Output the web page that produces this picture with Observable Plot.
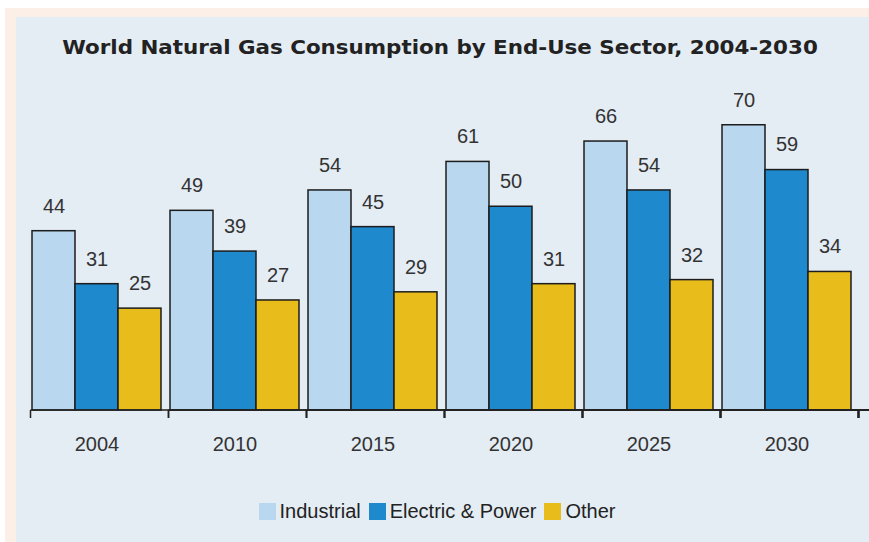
<!DOCTYPE html>
<html>
<head>
<meta charset="utf-8">
<script src="https://cdn.jsdelivr.net/npm/d3@7"></script>
<script src="https://cdn.jsdelivr.net/npm/@observablehq/plot@0.6"></script>
<style>
  html, body { margin: 0; padding: 0; background: #ffffff; overflow: hidden; }
  #wrap { position: relative; width: 869px; height: 542px; overflow: hidden; background: #ffffff; }
  #peach { position: absolute; left: 5px; top: 8px; width: 880px; height: 560px; background: #fcefe7; }
  #panel { position: absolute; left: 16px; top: 17px; width: 880px; height: 560px; background: #e4ecf4; }
  #title { position: absolute; left: 0; width: 880px; top: 35px; text-align: center;
    font-family: "DejaVu Sans", sans-serif; font-weight: bold; font-size: 20px; color: #222; white-space: nowrap;
    transform: scaleX(1.07); transform-origin: 440px 0; }
  #chart { position: absolute; left: 0; top: 0; }
  #legend { position: absolute; left: 0; width: 882px; top: 500px; display: flex; justify-content: center; align-items: center;
    font-family: "Liberation Sans", Arial, sans-serif; font-size: 20px; color: #222; }
  .item { display: flex; align-items: center; margin-right: 8px; }
  .sw { width: 17px; height: 17px; margin-right: 4px; }
</style>
</head>
<body>
<div id="wrap">
  <div id="peach"></div>
  <div id="panel"></div>
  <div id="chart"></div>
  <div id="title"></div>
  <div id="legend"></div>
</div>
<script>
const titleText = "World Natural Gas Consumption by End-Use Sector, 2004-2030";
const years = ["2004", "2010", "2015", "2020", "2025", "2030"];
const sectors = ["Industrial", "Electric & Power", "Other"];
const industrial = [44, 49, 54, 61, 66, 70];
const electric = [31, 39, 45, 50, 54, 59];
const other = [25, 27, 29, 31, 32, 34];
const colors = ["#b9d7ee", "#1e89cd", "#e8bc1b"];

const seriesValues = [industrial, electric, other];
const data = [];
years.forEach((yr, i) => {
  sectors.forEach((s, j) => data.push({year: yr, sector: s, value: seriesValues[j][i]}));
});

// baseline and group-boundary ticks derived from the fx scale
const axisLine = (index, scales) => {
  const fx = scales.fx, y = scales.y;
  const step = fx.step(), bw = fx.bandwidth();
  const half = (step - bw) / 2;
  const y0 = y(0);
  const edges = years.map(yr => fx(yr) - half);
  edges.push(fx(years[years.length - 1]) + bw + half);
  const g = d3.create("svg:g");
  g.append("line").attr("x1", edges[0]).attr("x2", edges[edges.length - 1])
    .attr("y1", y0).attr("y2", y0).attr("stroke", "#222").attr("stroke-width", 1.5);
  g.selectAll("line.t").data(edges).join("line").attr("class", "t")
    .attr("x1", d => d).attr("x2", d => d).attr("y1", y0).attr("y2", y0 + 8)
    .attr("stroke", "#222").attr("stroke-width", 1.5);
  return g.node();
};

const plot = Plot.plot({
  width: 869,
  height: 542,
  marginLeft: 28,
  marginRight: 13,
  marginTop: 84,
  marginBottom: 132,
  style: {background: "transparent", fontFamily: "'Liberation Sans', Arial, sans-serif"},
  fx: {domain: years, paddingInner: 0.05, paddingOuter: 0.025, label: null},
  x: {domain: sectors, padding: 0, axis: null},
  y: {domain: [0, 80], axis: null},
  color: {domain: sectors, range: colors},
  marks: [
    Plot.barY(data, {fx: "year", x: "sector", y: "value", fill: "sector", stroke: "#1c1c1c", strokeWidth: 1.5}),
    Plot.text(data, {fx: "year", x: "sector", y: "value", text: d => String(d.value), dy: -25, fontSize: 20, fill: "#333"}),
    Plot.axisFx({anchor: "bottom", tickSize: 0, tickPadding: 26, fontSize: 20, fill: "#333", label: null}),
    axisLine
  ]
});
document.getElementById("chart").appendChild(plot);

document.getElementById("title").textContent = titleText;
const legend = document.getElementById("legend");
sectors.forEach((s, j) => {
  const it = document.createElement("div");
  it.className = "item";
  const sw = document.createElement("div");
  sw.className = "sw";
  sw.style.background = colors[j];
  const lb = document.createElement("span");
  lb.textContent = s;
  it.appendChild(sw);
  it.appendChild(lb);
  legend.appendChild(it);
});
</script>
</body>
</html>
